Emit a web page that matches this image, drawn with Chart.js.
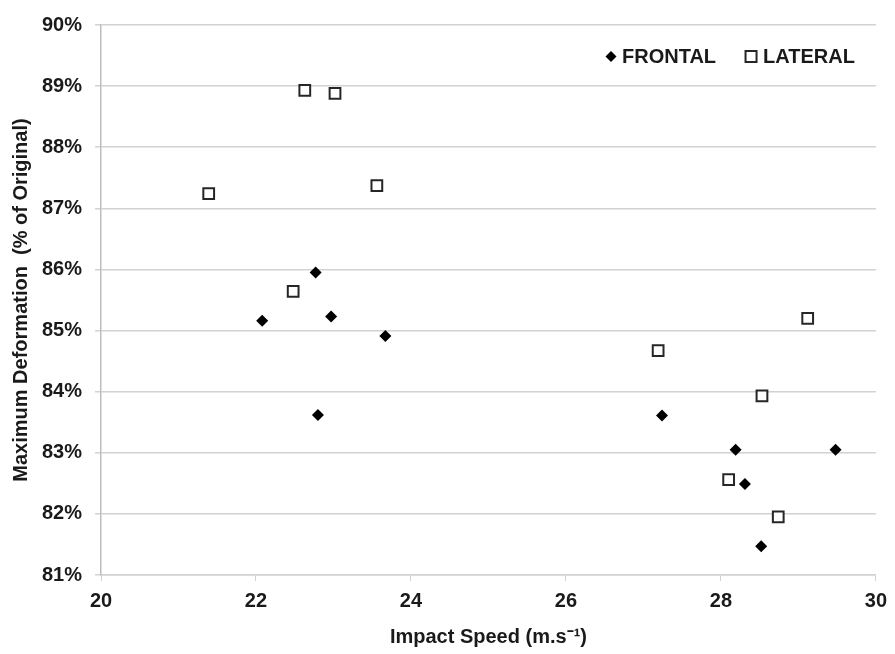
<!DOCTYPE html>
<html>
<head>
<meta charset="utf-8">
<script src="https://cdn.jsdelivr.net/npm/chart.js@4/dist/chart.umd.min.js"></script>
<style>
    html, body { margin: 0; padding: 0; background: #fff; }
    #wrap { width: 895px; height: 654px; position: relative; }
</style>
</head>
<body>
<div id="wrap"><canvas id="deformChart"></canvas></div>
<script>
// 數據
const seriesNames = ['FRONTAL', 'LATERAL'];

const frontalSpeed  = [22.77, 22.08, 22.97, 23.67, 22.80, 27.24, 28.19, 29.48, 28.31, 28.52];
const frontalDeform = [85.95, 85.16, 85.23, 84.91, 83.62, 83.61, 83.05, 83.05, 82.49, 81.47];

const lateralSpeed  = [22.63, 23.02, 21.39, 23.56, 22.48, 29.12, 27.19, 28.53, 28.10, 28.74];
const lateralDeform = [88.93, 88.88, 87.24, 87.37, 85.64, 85.20, 84.67, 83.93, 82.56, 81.95];

const xTickValues = [20, 22, 24, 26, 28, 30];
const yTickValues = [81, 82, 83, 84, 85, 86, 87, 88, 89, 90];

const FONT = "'Liberation Sans', Arial, sans-serif";
const TEXT_COLOR = '#1a1a1a';
const GRID_COLOR = '#d2d2d2';

function toPoints(xs, ys) {
    return xs.map((x, i) => ({ x: x, y: ys[i] }));
}

// 圖例畫在圖表區內右上角
const insideLegend = {
    id: 'insideLegend',
    afterDraw(chart) {
        const ctx = chart.ctx;
        const area = chart.chartArea;
        ctx.save();
        ctx.font = 'bold 20px ' + FONT;
        ctx.fillStyle = TEXT_COLOR;
        ctx.textBaseline = 'middle';
        ctx.textAlign = 'left';
        const cy = area.top + 31.5;

        const latW = ctx.measureText(seriesNames[1]).width;
        const latX = area.right - 21 - latW;
        const sqX = latX - 12;
        const froW = ctx.measureText(seriesNames[0]).width;
        const froX = sqX - 35 - froW;
        const diX = froX - 11;

        // diamond
        ctx.beginPath();
        ctx.moveTo(diX - 5.5, cy);
        ctx.lineTo(diX, cy - 5.5);
        ctx.lineTo(diX + 5.5, cy);
        ctx.lineTo(diX, cy + 5.5);
        ctx.closePath();
        ctx.fillStyle = '#000';
        ctx.fill();

        // square
        ctx.lineWidth = 2;
        ctx.strokeStyle = '#262626';
        ctx.fillStyle = '#fff';
        ctx.fillRect(sqX - 5.5, cy - 5.5, 11, 11);
        ctx.strokeRect(sqX - 5.5, cy - 5.5, 11, 11);

        ctx.fillStyle = TEXT_COLOR;
        ctx.fillText(seriesNames[0], froX, cy + 1);
        ctx.fillText(seriesNames[1], latX, cy + 1);
        ctx.restore();
    }
};

const ctx = document.getElementById('deformChart').getContext('2d');

const deformChart = new Chart(ctx, {
    type: 'scatter',
    data: {
        datasets: [
            {
                label: seriesNames[0],
                data: toPoints(frontalSpeed, frontalDeform),
                pointStyle: 'rectRot',
                pointRadius: 6,
                pointHoverRadius: 6,
                backgroundColor: '#000',
                borderColor: '#000',
                borderWidth: 0
            },
            {
                label: seriesNames[1],
                data: toPoints(lateralSpeed, lateralDeform),
                pointStyle: 'rect',
                pointRadius: 7.6,
                pointHoverRadius: 7.6,
                backgroundColor: '#fff',
                borderColor: '#262626',
                borderWidth: 2
            }
        ]
    },
    options: {
        responsive: true,
        maintainAspectRatio: false,
        animation: false,
        layout: {
            padding: { top: 19, right: 16, bottom: 0, left: 0 }
        },
        plugins: {
            legend: { display: false },
            tooltip: { enabled: false }
        },
        scales: {
            x: {
                type: 'linear',
                min: 20,
                max: 30,
                afterFit(scale) { scale.height = 79; },
                afterBuildTicks(scale) {
                    scale.ticks = xTickValues.map(v => ({ value: v }));
                },
                ticks: {
                    color: TEXT_COLOR,
                    font: { family: FONT, size: 20, weight: 'bold' },
                    padding: 8,
                    maxRotation: 0
                },
                grid: {
                    drawOnChartArea: false,
                    drawTicks: true,
                    tickLength: 6,
                    color: GRID_COLOR
                },
                border: { display: true, color: GRID_COLOR, width: 1.5 },
                title: {
                    display: true,
                    text: 'Impact Speed (m.s⁻¹)',
                    color: TEXT_COLOR,
                    font: { family: FONT, size: 20, weight: 'bold' },
                    padding: { top: 0, bottom: 5 }
                }
            },
            y: {
                type: 'linear',
                min: 81,
                max: 90,
                afterFit(scale) { scale.width = 101; },
                afterBuildTicks(scale) {
                    scale.ticks = yTickValues.map(v => ({ value: v }));
                },
                ticks: {
                    color: TEXT_COLOR,
                    font: { family: FONT, size: 20, weight: 'bold' },
                    padding: 13,
                    callback: function(value) {
                        return value + '%';
                    }
                },
                grid: {
                    color: GRID_COLOR,
                    lineWidth: 1.5,
                    tickLength: 6
                },
                border: { display: true, color: '#bdbdbd', width: 1.5 },
                title: {
                    display: true,
                    text: 'Maximum Deformation  (% of Original)',
                    color: TEXT_COLOR,
                    font: { family: FONT, size: 20, weight: 'bold' },
                    padding: { top: 9, bottom: 0 }
                }
            }
        }
    },
    plugins: [insideLegend]
});
</script>
</body>
</html>
